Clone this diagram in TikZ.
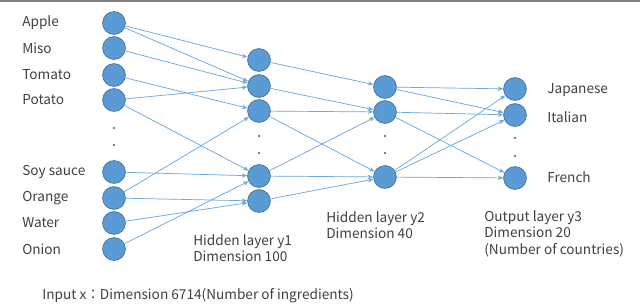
\documentclass[tikz,border=0pt]{standalone}
\usepackage{fontspec}
\setmainfont{Noto Sans CJK JP}
\usetikzlibrary{arrows.meta}
\definecolor{neuron}{HTML}{5B9BD5}
\definecolor{neuronedge}{HTML}{41719C}
\definecolor{link}{HTML}{72A9DD}
\definecolor{txt}{HTML}{404040}

\begin{document}
\begin{tikzpicture}[
    x=0.025cm, y=-0.025cm,
    >={Stealth[length=4pt, width=3.2pt]},
    unit/.style={circle, draw=neuronedge, fill=neuron, line width=0.5pt,
                 minimum size=0.57cm, inner sep=0pt},
    conn/.style={->, draw=link, fill=link, line width=0.5pt},
    lbl/.style={font=\fontsize{9.7}{11.8}\selectfont, text=txt, anchor=west, inner sep=0pt},
    layercap/.style={lbl, anchor=north west, align=left},
    dot/.style={circle, fill=black, inner sep=0pt, minimum size=1.4pt},
]
\useasboundingbox (0,0) rectangle (640,305);
% ------------------------------------------------ frame edge
\coordinate (edgeL) at (0,0.8);
\coordinate (edgeR) at (640,0.8);
\draw[black!50, line width=1.2pt] (edgeL) -- (edgeR);
% ------------------------------------------------ input layer
\foreach \n/\y/\t in {1/23/Apple, 2/48/Miso, 3/75/Tomato, 4/100/Potato,
                      5/172/Soy sauce, 6/198/Orange, 7/223/Water, 8/249/Onion} {
  \node[unit] (in\n) at (114,\y) {};
  \node[lbl] (inlbl\n) at (22,\y) {\t};
}
% ------------------------------------------------ hidden layers and output
\foreach \n/\y in {1/60, 2/86, 3/111, 4/176, 5/201}
  \node[unit] (hA\n) at (259,\y) {};
\foreach \n/\y in {1/87, 2/112, 3/177}
  \node[unit] (hB\n) at (385,\y) {};
\foreach \n/\y in {1/89, 2/115, 3/178}
  \node[unit] (out\n) at (515,\y) {};
\node[lbl] (outlbl1) at (547,90) {Japanese};
\node[lbl] (outlbl2) at (547,117) {Italian};
\node[lbl] (outlbl3) at (547,177) {French};
% ------------------------------------------------ omitted units
\foreach \k/\x/\ya/\yb in {in/114/128/145, hA/259/136/153, hB/385/136/153, out/515/138/156} {
  \node[dot] (\k dotA) at (\x,\ya) {};
  \node[dot] (\k dotB) at (\x,\yb) {};
}
% ------------------------------------------------ weights
\foreach \a/\b in {1/1, 1/2, 2/2, 3/3, 4/2, 4/4, 5/4, 6/3, 6/5, 7/5, 8/4}
  \draw[conn] (in\a) -- (hA\b);
\foreach \a/\b in {1/1, 2/2, 3/2, 3/3, 4/2, 4/3, 5/3}
  \draw[conn] (hA\a) -- (hB\b);
\foreach \a/\b in {1/1, 1/2, 2/2, 2/3, 3/1, 3/2, 3/3}
  \draw[conn] (hB\a) -- (out\b);
% ------------------------------------------------ captions
\node[layercap] (capA) at (193,234) {Hidden layer y1\\Dimension 100};
\node[layercap] (capB) at (326,211) {Hidden layer y2\\Dimension 40};
\node[layercap] (capC) at (484,210) {Output layer y3\\Dimension 20\\(Number of countries)};
\node[lbl] (capIn) at (42,296) {Input x：Dimension 6714(Number of ingredients)};
\end{tikzpicture}
\end{document}
